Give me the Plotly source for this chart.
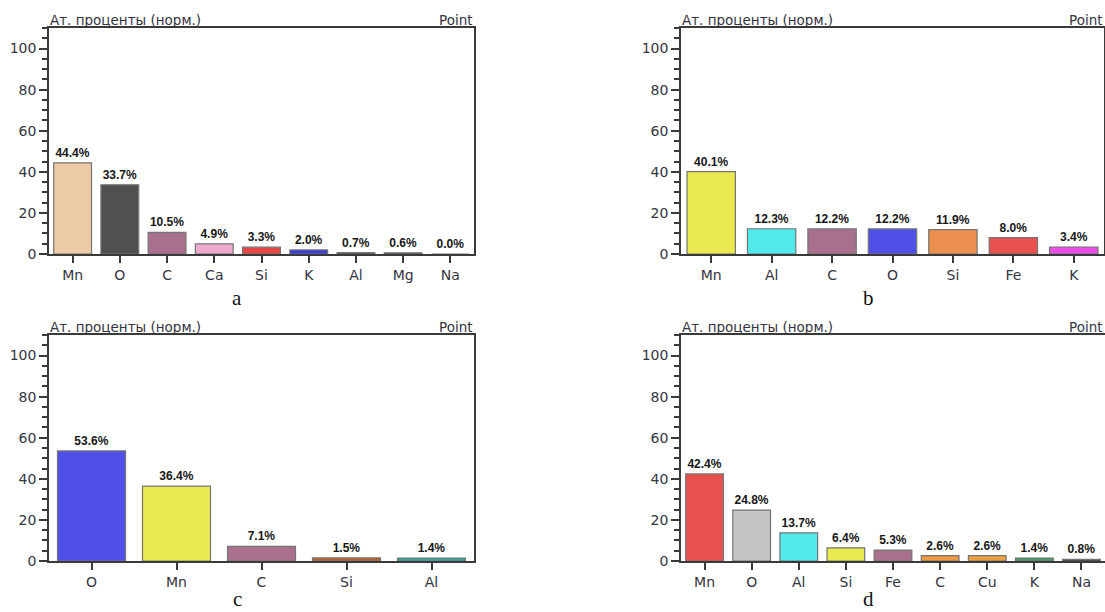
import plotly.graph_objects as go

# Atomic percentages (normalized) for four EDS point analyses
elements_a = ["Mn", "O", "C", "Ca", "Si", "K", "Al", "Mg", "Na"]
values_a = [44.4, 33.7, 10.5, 4.9, 3.3, 2.0, 0.7, 0.6, 0.0]
colors_a = ["#EECBA8", "#505050", "#A8708C", "#EEAACC", "#E84848", "#3C3CDC", "#353535", "#404040", "#353535"]

elements_b = ["Mn", "Al", "C", "O", "Si", "Fe", "K"]
values_b = [40.1, 12.3, 12.2, 12.2, 11.9, 8.0, 3.4]
colors_b = ["#EAEA50", "#50EAEA", "#A8708C", "#5050E8", "#EC9050", "#E85050", "#E850E8"]

elements_c = ["O", "Mn", "C", "Si", "Al"]
values_c = [53.6, 36.4, 7.1, 1.5, 1.4]
colors_c = ["#5050E8", "#EAEA50", "#A8708C", "#B8602A", "#2AA8A0"]

elements_d = ["Mn", "O", "Al", "Si", "Fe", "C", "Cu", "K", "Na"]
values_d = [42.4, 24.8, 13.7, 6.4, 5.3, 2.6, 2.6, 1.4, 0.8]
colors_d = ["#E85050", "#C4C4C4", "#50EAEA", "#EAEA50", "#A8708C", "#EE9A40", "#EEA040", "#40A060", "#303030"]

panel_letters = ["a", "b", "c", "d"]
y_title = "Ат. проценты (норм.)"
spot_label = "Point"

W, H = 1105, 612

# panel frames in pixels: (left, right, top, bottom-at-zero)
frames = [
    (49, 474, 28, 254),
    (681, 1104, 28, 254),
    (49, 474, 335, 561),
    (681, 1105, 335, 561),
]
# caption centre x and bottom edge of the caption box, in pixels
caption_pos = [(237, 311), (868, 311), (237, 612), (868, 612)]

datasets = [
    (elements_a, values_a, colors_a),
    (elements_b, values_b, colors_b),
    (elements_c, values_c, colors_c),
    (elements_d, values_d, colors_d),
]

TICK_FONT = dict(family="DejaVu Sans, Verdana, sans-serif", size=14, color="#34343f")
HEAD_FONT = dict(family="DejaVu Sans, Verdana, sans-serif", size=13.5, color="#34343f")
LINE = "#3a3a3a"

fig = go.Figure()
layout = dict(
    width=W, height=H,
    margin=dict(l=0, r=0, t=0, b=0, autoexpand=False),
    paper_bgcolor="white", plot_bgcolor="white",
    showlegend=False,
    annotations=[],
)

for i, ((cats, vals, cols), (l, r, t, b)) in enumerate(zip(datasets, frames)):
    k = "" if i == 0 else str(i + 1)
    fig.add_trace(go.Bar(
        x=cats, y=vals,
        xaxis="x" + k, yaxis="y" + k,
        marker=dict(color=cols, line=dict(color="#747474", width=1.2)),
        texttemplate="%{y:.1f}%",
        textposition="outside",
        constraintext="none",
        cliponaxis=False,
        textfont=dict(family="Liberation Sans, Arial, sans-serif", size=12,
                      color="#161616", weight="bold"),
        hoverinfo="x+y",
    ))
    layout["xaxis" + k] = dict(
        domain=[l / W, r / W],
        anchor="y" + k,
        type="category",
        range=[-0.5, len(cats) - 0.5],
        showline=True, mirror=True, linecolor=LINE, linewidth=1.5,
        ticks="outside", ticklen=7, tickwidth=1.5, tickcolor=LINE,
        tickfont=TICK_FONT, showgrid=False, zeroline=False,
    )
    layout["yaxis" + k] = dict(
        domain=[1 - b / H, 1 - t / H],
        anchor="x" + k,
        range=[0, 110],
        tick0=0, dtick=20,
        showline=True, mirror=True, linecolor=LINE, linewidth=1.5,
        ticks="outside", ticklen=8, tickwidth=1.5, tickcolor=LINE,
        minor=dict(dtick=5, tick0=0, ticks="outside", ticklen=5,
                   tickwidth=1.5, tickcolor=LINE),
        tickfont=TICK_FONT, showgrid=False, zeroline=False,
    )
    # header texts above each frame
    layout["annotations"].append(dict(
        xref="paper", yref="paper", x=l / W, y=1 - (t + 1) / H,
        xanchor="left", yanchor="bottom", showarrow=False,
        text=y_title, font=HEAD_FONT, borderpad=0,
    ))
    layout["annotations"].append(dict(
        xref="paper", yref="paper", x=min(r, 1104) / W, y=1 - (t + 1) / H,
        xanchor="right", yanchor="bottom", showarrow=False,
        text=spot_label, font=HEAD_FONT, borderpad=0,
    ))
    cx, cy = caption_pos[i]
    layout["annotations"].append(dict(
        xref="paper", yref="paper", x=cx / W, y=1 - cy / H,
        xanchor="center", yanchor="bottom", showarrow=False,
        text=panel_letters[i],
        font=dict(family="Liberation Serif, Times New Roman, serif", size=21, color="#111111"),
        borderpad=0,
    ))

fig.update_layout(**layout)
fig.write_html("out.html")
